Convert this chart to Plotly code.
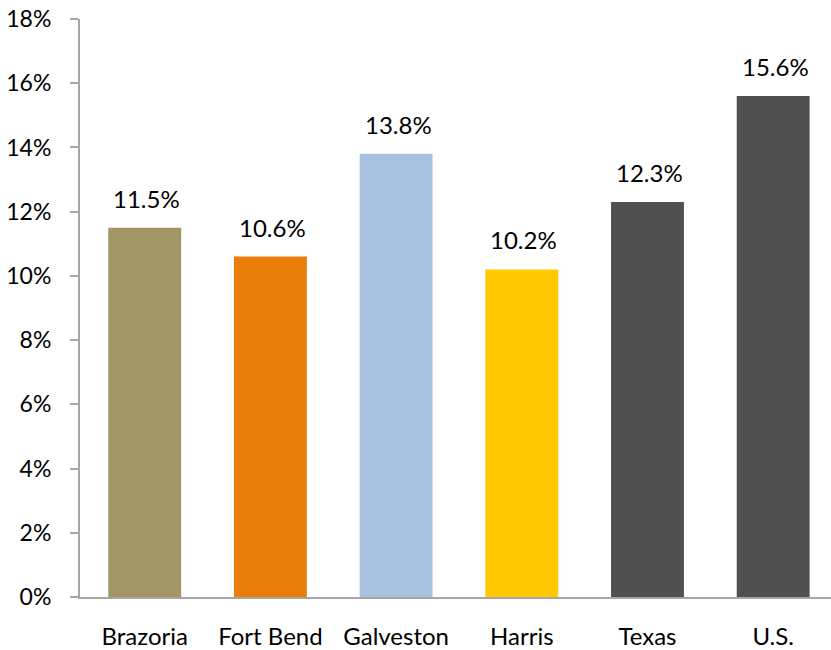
import plotly.graph_objects as go

categories = ["Brazoria", "Fort Bend", "Galveston", "Harris", "Texas", "U.S."]
values = [0.115, 0.106, 0.138, 0.102, 0.123, 0.156]
labels = ["11.5%", "10.6%", "13.8%", "10.2%", "12.3%", "15.6%"]
colors = ["#A39666", "#EA7E0B", "#A7C1DF", "#FFC800", "#505050", "#505050"]
ytick_vals = [0, 0.02, 0.04, 0.06, 0.08, 0.10, 0.12, 0.14, 0.16, 0.18]
ytick_text = ["0%", "2%", "4%", "6%", "8%", "10%", "12%", "14%", "16%", "18%"]

FONT = "Lato"

fig = go.Figure()
fig.add_trace(go.Bar(
    x=list(range(len(categories))), y=values,
    marker=dict(color=colors, line=dict(width=0)),
    width=0.58,
    hoverinfo="skip",
))

for i, (v, t) in enumerate(zip(values, labels)):
    fig.add_annotation(x=i + 0.015, y=v, text=t, showarrow=False, yanchor="bottom",
                       yshift=13, font=dict(family=FONT, size=24, color="#000000"))

fig.update_layout(
    width=831, height=650,
    margin=dict(l=80, r=0, t=19, b=49),
    plot_bgcolor="white", paper_bgcolor="white",
    showlegend=False,
    xaxis=dict(
        range=[-0.515, 5.46],
        tickmode="array", tickvals=list(range(len(categories))), ticktext=categories,
        showline=True, linecolor="#A6A6A6", linewidth=2,
        showgrid=False, zeroline=False, ticks="",
        ticklabelstandoff=17,
        tickfont=dict(family=FONT, size=24, color="#000000"),
        fixedrange=True,
    ),
    yaxis=dict(
        range=[0, 0.18],
        tickmode="array", tickvals=ytick_vals, ticktext=ytick_text,
        showline=True, linecolor="#A6A6A6", linewidth=2,
        ticks="outside", ticklen=8, tickcolor="#A6A6A6", tickwidth=2,
        ticklabelstandoff=14,
        showgrid=False, zeroline=False,
        tickfont=dict(family=FONT, size=23, color="#000000"),
        fixedrange=True,
    ),
)

fig.write_html("out.html")
